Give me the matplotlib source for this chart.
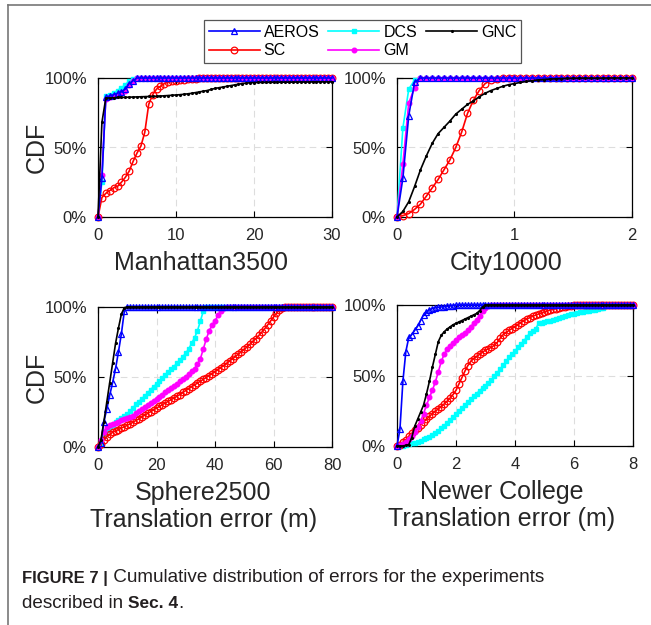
import numpy as np
import matplotlib
matplotlib.use('Agg')
import matplotlib.pyplot as plt
from matplotlib.lines import Line2D

plt.rcParams['font.family'] = ['Liberation Sans', 'DejaVu Sans']

# ---- data: CDF values ----
# Manhattan3500, error grid 0..30 step 0.5
man_x = np.linspace(0, 30, 61)
man_aeros = [0, 0.28, 0.86, 0.87, 0.88, 0.89, 0.90, 0.92, 0.96, 0.98] + [1.0] * 51
man_dcs = [0, 0.25, 0.87, 0.88, 0.89, 0.91, 0.93, 0.95, 0.98, 0.99] + [1.0] * 51
man_gm = [0, 0.30, 0.85, 0.86, 0.87, 0.88, 0.89, 0.91, 0.95, 0.98] + [1.0] * 51
man_sc = [0, 0.14, 0.17, 0.19, 0.21, 0.22, 0.25, 0.285, 0.33, 0.40, 0.46, 0.51, 0.61, 0.81,
          0.88, 0.92, 0.94, 0.96, 0.97, 0.975, 0.98, 0.984, 0.988, 0.991, 0.994, 0.996,
          0.998, 0.999] + [1.0] * 33
man_gnc = [0, 0.68, 0.855, 0.857, 0.858, 0.86, 0.86, 0.861, 0.862, 0.863, 0.864, 0.865,
           0.866, 0.867, 0.868, 0.869, 0.87, 0.872, 0.874, 0.876, 0.878, 0.88, 0.883,
           0.886, 0.89, 0.895, 0.90, 0.905, 0.91, 0.918, 0.925, 0.93, 0.935, 0.94, 0.945,
           0.95, 0.955, 0.96, 0.963, 0.966, 0.967, 0.968, 0.968, 0.968, 0.969, 0.969,
           0.969, 0.97, 0.97, 0.97, 0.97, 0.971, 0.971, 0.971, 0.971, 0.972, 0.972, 0.972,
           0.972, 0.972, 0.972]

# City10000, error grid 0..2 step 0.05
city_x = np.linspace(0, 2, 41)
city_aeros = [0, 0.28, 0.73, 0.97] + [1.0] * 37
city_dcs = [0, 0.64, 0.92, 0.985] + [1.0] * 37
city_gm = [0, 0.38, 0.82, 0.93] + [1.0] * 37
city_sc = [0, 0.01, 0.025, 0.055, 0.093, 0.15, 0.21, 0.27, 0.34, 0.41, 0.50, 0.61, 0.745,
           0.84, 0.91, 0.96, 0.985, 0.995] + [1.0] * 23
city_gnc = [0, 0.04, 0.11, 0.22, 0.34, 0.44, 0.53, 0.60, 0.645, 0.69, 0.74, 0.775, 0.81,
            0.835, 0.865, 0.89, 0.91, 0.925, 0.94, 0.952, 0.96, 0.968, 0.975, 0.981,
            0.986, 0.989, 0.992, 0.994, 0.996, 0.997, 0.998] + [0.999] * 5 + [1.0] * 5

# Sphere2500, error grid 0..80 step 1
sph_x = np.linspace(0, 80, 81)
sph_aeros = [0, 0.03, 0.18, 0.27, 0.37, 0.46, 0.56, 0.68, 0.81, 0.97] + [1.0] * 71
sph_gnc = [0, 0.05, 0.18, 0.32, 0.46, 0.60, 0.74, 0.85, 0.95, 0.995] + [1.0] * 71
sph_dcs = [0, 0.03, 0.08, 0.12, 0.14, 0.16, 0.18, 0.195, 0.205, 0.22, 0.235, 0.255, 0.28,
           0.305, 0.325, 0.345, 0.365, 0.385, 0.41, 0.43, 0.45, 0.47, 0.49, 0.515, 0.535,
           0.555, 0.575, 0.60, 0.62, 0.645, 0.67, 0.70, 0.74, 0.78, 0.83, 0.90, 0.97] + [1.0] * 44
sph_gm = [0, 0.05, 0.11, 0.145, 0.16, 0.165, 0.17, 0.18, 0.19, 0.20, 0.205, 0.215, 0.225,
          0.24, 0.255, 0.27, 0.285, 0.30, 0.315, 0.33, 0.345, 0.36, 0.375, 0.39, 0.405,
          0.42, 0.435, 0.45, 0.47, 0.485, 0.50, 0.52, 0.54, 0.56, 0.59, 0.63, 0.70, 0.77,
          0.83, 0.87, 0.90, 0.94, 0.97, 0.99] + [1.0] * 37
sph_sc = [0, 0.02, 0.05, 0.075, 0.09, 0.105, 0.115, 0.125, 0.135, 0.145,
          0.155, 0.165, 0.178, 0.19, 0.20, 0.215, 0.228, 0.24, 0.252, 0.265,
          0.278, 0.29, 0.302, 0.314, 0.326, 0.338, 0.35, 0.362, 0.375, 0.39,
          0.403, 0.416, 0.43, 0.443, 0.457, 0.47, 0.483, 0.496, 0.51, 0.523,
          0.537, 0.552, 0.567, 0.582, 0.598, 0.614, 0.63, 0.647, 0.664, 0.681,
          0.698, 0.716, 0.735, 0.755, 0.775, 0.797, 0.82, 0.845, 0.872, 0.90,
          0.928, 0.955, 0.978, 0.995] + [1.0] * 17

# Newer College, error grid 0..8 step 0.1
nc_x = np.linspace(0, 8, 81)
nc_aeros = [0, 0.12, 0.46, 0.67, 0.77, 0.79, 0.82, 0.85, 0.89, 0.93, 0.95, 0.965, 0.975,
            0.98, 0.983, 0.986, 0.988, 0.99, 0.993, 0.996, 0.998] + [1.0] * 60
nc_gnc = [0, 0, 0, 0.005, 0.01, 0.06, 0.14, 0.19, 0.24, 0.29, 0.37, 0.46, 0.56, 0.65, 0.74,
          0.785, 0.81, 0.83, 0.845, 0.86, 0.87, 0.88, 0.89, 0.90, 0.91, 0.92, 0.93, 0.94,
          0.96, 0.985, 1.0] + [1.0] * 50
nc_gm = [0, 0.005, 0.015, 0.03, 0.05, 0.07, 0.10, 0.135, 0.175, 0.23, 0.29, 0.345, 0.395,
         0.455, 0.525, 0.60, 0.65, 0.685, 0.71, 0.73, 0.75, 0.77, 0.785, 0.80, 0.82, 0.845,
         0.87, 0.895, 0.925, 0.955, 0.98, 0.995, 1.0] + [1.0] * 48
nc_sc = [0, 0.01, 0.025, 0.045, 0.07, 0.09, 0.11, 0.13, 0.15, 0.17,
         0.19, 0.21, 0.23, 0.247, 0.263, 0.28, 0.298, 0.318, 0.34, 0.365,
         0.395, 0.44, 0.485, 0.53, 0.57, 0.60, 0.62, 0.635, 0.65, 0.665,
         0.68, 0.69, 0.70, 0.715, 0.735, 0.765, 0.79, 0.805, 0.82, 0.833,
         0.845, 0.86, 0.875, 0.888, 0.90, 0.91, 0.92, 0.928, 0.936, 0.944,
         0.952, 0.958, 0.964, 0.97, 0.975, 0.98, 0.985, 0.989, 0.992, 0.995,
         0.997, 0.999, 1.0] + [1.0] * 18
nc_dcs = [0, 0, 0.003, 0.008, 0.013, 0.018, 0.023, 0.03, 0.038, 0.047,
          0.056, 0.064, 0.075, 0.09, 0.105, 0.125, 0.145, 0.165, 0.185, 0.205,
          0.225, 0.248, 0.27, 0.29, 0.31, 0.33, 0.352, 0.372, 0.392, 0.41,
          0.428, 0.448, 0.47, 0.495, 0.52, 0.545, 0.572, 0.60, 0.628, 0.65,
          0.675, 0.70, 0.722, 0.745, 0.772, 0.80, 0.815, 0.83, 0.87, 0.875,
          0.88, 0.885, 0.89, 0.895, 0.90, 0.908, 0.915, 0.922, 0.928, 0.933,
          0.938, 0.943, 0.947, 0.951, 0.955, 0.959, 0.963, 0.967, 0.972, 0.976,
          0.98, 1.0] + [1.0] * 9

panels = [
    ("Manhattan3500", man_x, 30, [0, 10, 20, 30],
     dict(AEROS=man_aeros, DCS=man_dcs, GNC=man_gnc, SC=man_sc, GM=man_gm)),
    ("City10000", city_x, 2, [0, 1, 2],
     dict(AEROS=city_aeros, DCS=city_dcs, GNC=city_gnc, SC=city_sc, GM=city_gm)),
    ("Sphere2500\nTranslation error (m)", sph_x, 80, [0, 20, 40, 60, 80],
     dict(AEROS=sph_aeros, DCS=sph_dcs, GNC=sph_gnc, SC=sph_sc, GM=sph_gm)),
    ("Newer College\nTranslation error (m)", nc_x, 8, [0, 2, 4, 6, 8],
     dict(AEROS=nc_aeros, DCS=nc_dcs, GNC=nc_gnc, SC=nc_sc, GM=nc_gm)),
]

styles = {
    'DCS':   dict(color='#00ffff', marker='s', ms=3.3, mfc='#00ffff', mec='#00ffff'),
    'SC':    dict(color='#ff0000', marker='o', ms=4.8, mfc='none', mec='#ff0000', mew=0.9),
    'GM':    dict(color='#ff00ff', marker='o', ms=3.3, mfc='#ff00ff', mec='#ff00ff'),
    'AEROS': dict(color='#0000ff', marker='^', ms=4.8, mfc='none', mec='#0000ff', mew=0.9),
    'GNC':   dict(color='black', marker='.', ms=2.5),
}

W, H = 651, 625
fig = plt.figure(figsize=(W / 100, H / 100), dpi=100)

# axes boxes in pixels: left, top, right, bottom
boxes = [(98, 78, 332, 217), (397, 78, 632, 217),
         (98, 307, 332, 447), (397, 305, 633, 446)]
label_cx = [0.44, 0.465, 0.45, 0.445]

handles = {}
for i, (name, xs, xmax, xt, series) in enumerate(panels):
    l, t, r, b = boxes[i]
    ax = fig.add_axes([l / W, (H - b) / H, (r - l) / W, (b - t) / H])
    for key in ['DCS', 'SC', 'GM', 'AEROS', 'GNC']:
        ln, = ax.plot(xs, series[key], lw=1.2, clip_on=False, label=key, **styles[key])
        handles[key] = ln
    ax.set_xlim(0, xmax)
    ax.set_ylim(0, 1)
    ax.set_xticks(xt)
    ax.set_yticks([0, 0.5, 1])
    ax.set_yticklabels(['0%', '50%', '100%'])
    ax.grid(True, ls=(0, (6, 4)), color='#dddddd', lw=0.8)
    ax.set_axisbelow(True)
    ax.tick_params(direction='in', top=True, right=True, length=4, width=0.8,
                   labelsize=12, labelcolor='#262626', pad=8)
    for sp in ax.spines.values():
        sp.set_linewidth(0.9)
        sp.set_zorder(1)
    ax.set_xlabel(name, fontsize=18, color='#262626', linespacing=1.18)
    ax.xaxis.set_label_coords(label_cx[i], -34.0 / (b - t))
    ax.xaxis.label.set_va('top')
    if i % 2 == 0:
        ax.set_ylabel('CDF', fontsize=18, color='#262626')
        ax.yaxis.set_label_coords(-0.212, 0.5)

order = ['AEROS', 'SC', 'DCS', 'GM', 'GNC']
leg = fig.legend([handles[k] for k in order], order, ncol=3, loc='center',
                 bbox_to_anchor=(362.5 / W, 1 - 41.5 / H), fontsize=11.5,
                 handlelength=3.2, handletextpad=0.25, columnspacing=0.55,
                 labelspacing=0.2, borderpad=0.3, fancybox=False, framealpha=1,
                 edgecolor='#555555', markerscale=1.0)
leg.get_frame().set_linewidth(0.9)

# page frame lines
fig.add_artist(Line2D([8 / W, 1], [1 - 5 / H, 1 - 5 / H], color='#777777', lw=1.2,
                      transform=fig.transFigure))
fig.add_artist(Line2D([8 / W, 8 / W], [0, 1 - 5 / H], color='#777777', lw=1.2,
                      transform=fig.transFigure))

# caption with bold runs
renderer = fig.canvas.get_renderer()


def put_runs(x, y, runs):
    for s, w, size in runs:
        txt = fig.text(x / W, 1 - y / H, s, fontsize=size, fontweight=w,
                       color='#231f20', va='center', ha='left')
        x = txt.get_window_extent(renderer).x1


put_runs(22, 578, [("FIGURE 7 |", 'bold', 12),
                   (" Cumulative distribution of errors for the experiments", 'normal', 13.6)])
put_runs(22, 603, [("described in ", 'normal', 13.6), ("Sec. 4", 'bold', 12.5),
                   (".", 'normal', 13.6)])

fig.savefig('out.png', dpi=100)
